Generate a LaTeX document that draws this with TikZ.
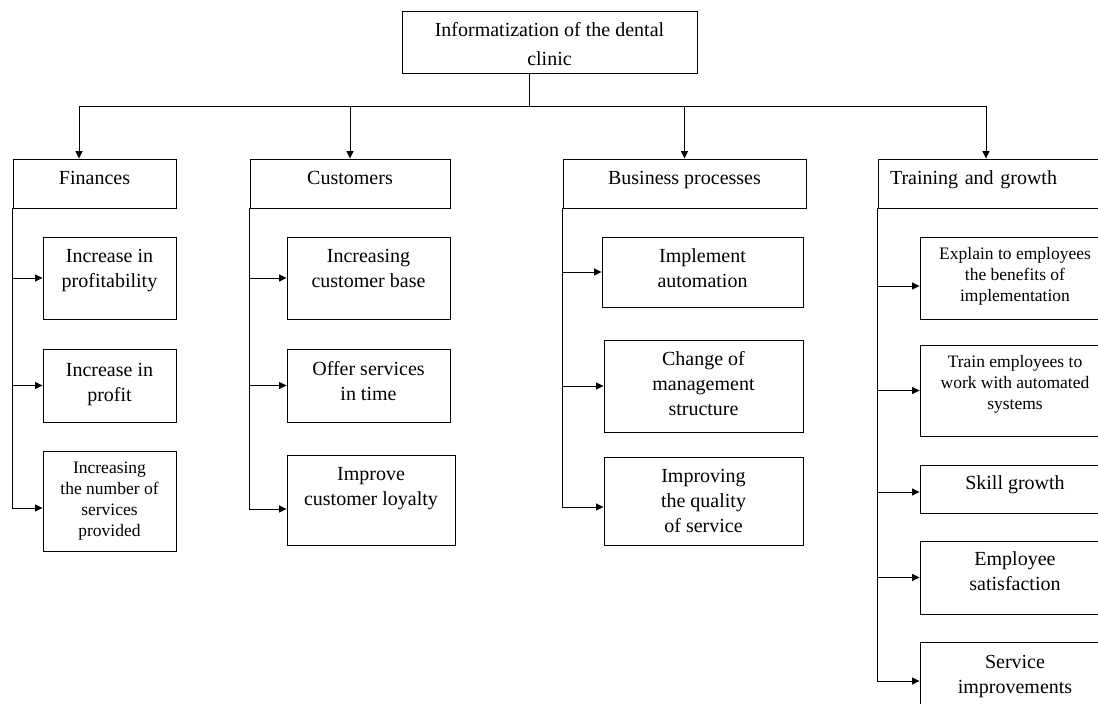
\documentclass[tikz,border=0pt]{standalone}
\usepackage{fontspec}
\setmainfont{Liberation Serif}
\usetikzlibrary{arrows.meta}
% centred lines of text, drawn #1 pt higher without changing the node size
\newcommand\lift[2]{\raisebox{#1pt}[\height][\depth]{\begin{tabular}{@{}c@{}}#2\end{tabular}}}

\begin{document}
\begin{tikzpicture}[x=1pt,y=-1pt,
  box/.style={draw, line width=0.9pt, inner sep=0pt, align=center,
              font=\fontsize{20}{25}\selectfont},
  small/.style={font=\fontsize{17.5}{21}\selectfont},
  sz/.style 2 args={minimum width=#1pt, minimum height=#2pt},
  link/.style={line width=0.9pt},
  arr/.style={link, -{Triangle[length=7.5pt,width=7pt]}}]

\useasboundingbox (0,0) rectangle (1098,704);
\clip (0,0) rectangle (1098,704);

% root
\node[box, sz={295}{62}, font=\fontsize{20}{29}\selectfont] (top) at (549.5,42)
  {\lift{-3}{Informatization of the dental\\clinic}};

% perspectives
\node[box, sz={163}{49}] (fin) at (94.5,183.5) {\lift{4}{Finances}};
\node[box, sz={200}{49}] (cus) at (350,183.5) {\lift{4}{Customers}};
\node[box, sz={243}{49}] (bus) at (684.5,183.5) {\lift{4}{Business processes}};
\node[box, sz={232}{49}, text width=208pt, inner xsep=12pt, align=left] (trn) at (994,183.5)
  {\lift{4}{Training and growth}};

% finances
\node[box, sz={133}{82}] (f1) at (109.5,278) {\lift{8.5}{Increase in\\profitability}};
\node[box, sz={133}{73}] (f2) at (109.5,385.5) {\lift{1.5}{Increase in\\profit}};
\node[box, small, sz={133}{100}] (f3) at (109.5,501) {\lift{0}{Increasing\\the number of\\services\\provided}};

% customers
\node[box, sz={163}{82}] (c1) at (368.5,278) {\lift{8.5}{Increasing\\customer base}};
\node[box, sz={163}{73}] (c2) at (368.5,385.5) {\lift{3}{Offer services\\in time}};
\node[box, sz={168}{90}] (c3) at (371,500) {\lift{12.5}{Improve\\customer loyalty}};

% business processes
\node[box, sz={201}{70}] (b1) at (702.5,272) {\lift{2.5}{Implement\\automation}};
\node[box, sz={199}{92}] (b2) at (703.5,386) {\lift{1}{Change of\\management\\structure}};
\node[box, sz={199}{88}] (b3) at (703.5,501) {\lift{-1}{Improving\\the quality\\of service}};

% training and growth
\node[box, small, sz={190}{82}] (t1) at (1015,278) {\lift{2}{Explain to employees\\the benefits of\\implementation}};
\node[box, small, sz={190}{91}] (t2) at (1015,390.5) {\lift{6.5}{Train employees to\\work with automated\\systems}};
\node[box, sz={190}{48}] (t3) at (1015,489) {\lift{5}{Skill growth}};
\node[box, sz={190}{73}] (t4) at (1015,577.5) {\lift{4.5}{Employee\\satisfaction}};
\node[box, sz={190}{78}] (t5) at (1015,681) {\lift{5.5}{Service\\improvements}};

% root to perspectives
\coordinate (stem) at ([xshift=-20.5pt]top.south);
\coordinate (hub) at ([yshift=-33pt]stem);
\coordinate (finin) at ([xshift=-15.5pt]fin.north);
\coordinate (trnin) at ([xshift=-8pt]trn.north);
\draw[link] (stem) -- (hub);
\draw[link] (finin |- hub) -- (trnin |- hub);
\draw[arr] (finin |- hub) -- (finin);
\draw[arr] (cus.north |- hub) -- (cus.north);
\draw[arr] (bus.north |- hub) -- (bus.north);
\draw[arr] (trnin |- hub) -- (trnin);

% entry points on the left sides
\coordinate (f3in) at ([yshift=-7pt]f3.west);
\coordinate (c3in) at ([yshift=-9pt]c3.west);
\coordinate (b3in) at ([yshift=-6pt]b3.west);
\coordinate (t1in) at ([yshift=-8pt]t1.west);
\coordinate (t3in) at ([yshift=-3pt]t3.west);

% finances branch
\draw[arr] (fin.south west) |- (f3in);
\draw[arr] (fin.south west |- f1.west) -- (f1.west);
\draw[arr] (fin.south west |- f2.west) -- (f2.west);

% customers branch
\draw[arr] (cus.south west) |- (c3in);
\draw[arr] (cus.south west |- c1.west) -- (c1.west);
\draw[arr] (cus.south west |- c2.west) -- (c2.west);

% business processes branch
\draw[arr] (bus.south west) |- (b3in);
\draw[arr] (bus.south west |- b1.west) -- (b1.west);
\draw[arr] (bus.south west |- b2.west) -- (b2.west);

% training and growth branch
\draw[arr] (trn.south west) |- (t5.west);
\draw[arr] (trn.south west |- t1in) -- (t1in);
\draw[arr] (trn.south west |- t2.west) -- (t2.west);
\draw[arr] (trn.south west |- t3in) -- (t3in);
\draw[arr] (trn.south west |- t4.west) -- (t4.west);
\end{tikzpicture}
\end{document}
